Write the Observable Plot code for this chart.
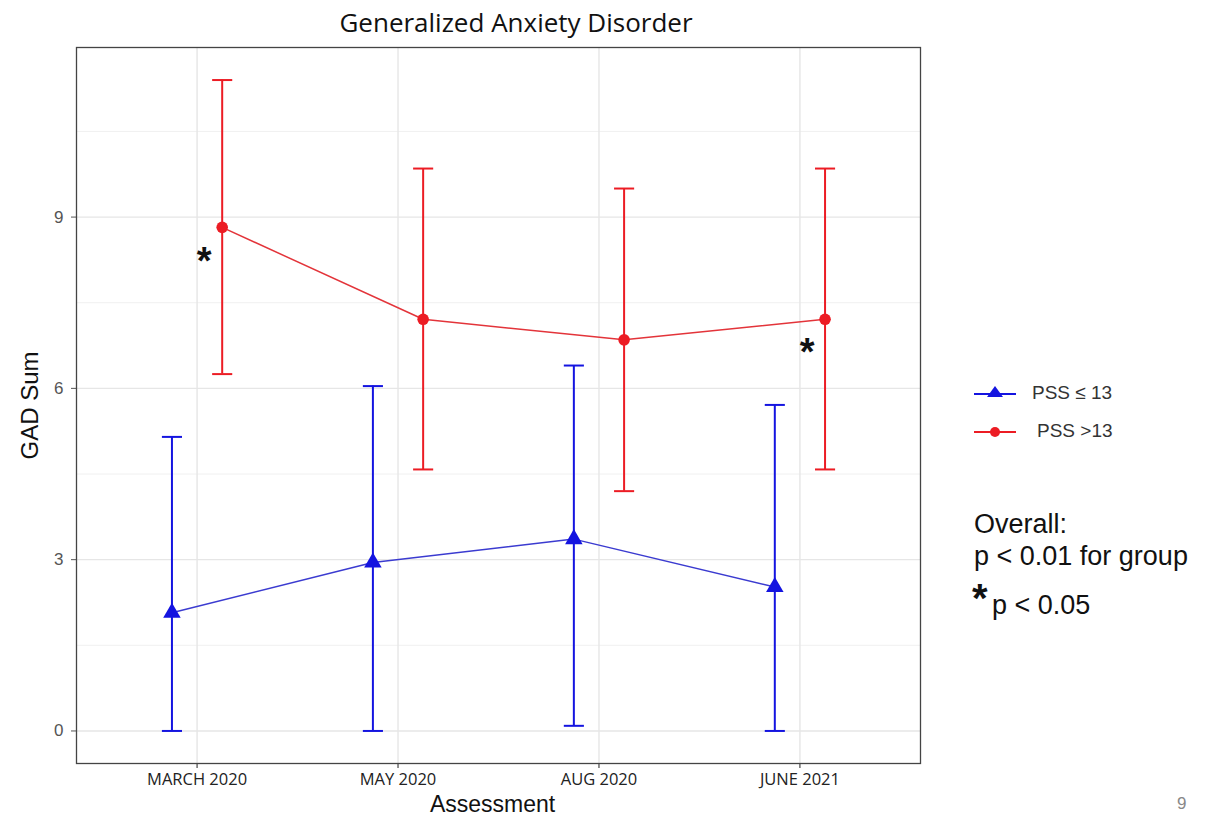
<!DOCTYPE html>
<html>
<head>
<meta charset="utf-8">
<script src="https://cdn.jsdelivr.net/npm/d3@7"></script>
<script src="https://cdn.jsdelivr.net/npm/@observablehq/plot@0.6"></script>
<style>
  body { margin: 0; background: #fff; font-family: "Liberation Sans", Arial, sans-serif; }
  #wrap { position: relative; width: 1207px; height: 821px; overflow: hidden; }
  #title { height: 40px; line-height: 44px; width: 1032px; text-align: center; font-family: "Open Sans", sans-serif; font-size: 26px; color: #111; }
  .abs { position: absolute; white-space: nowrap; }
  .leg { font-size: 19px; color: #333; }
  .note { font-size: 27px; color: #111; }
</style>
</head>
<body>
<div id="wrap">
  <div id="title">Generalized Anxiety Disorder</div>
  <div id="chart"></div>
</div>
<script>
// ---- data ----
const assessments = ["MARCH 2020", "MAY 2020", "AUG 2020", "JUNE 2021"];
const groups = ["PSS ≤ 13", "PSS >13"];
const groupColors = ["#1414e0", "#ec1c24"];
const lowMean  = [2.07, 2.95, 3.36, 2.52];
const lowLower = [0.00, 0.00, 0.09, 0.00];
const lowUpper = [5.15, 6.04, 6.40, 5.71];
const highMean  = [8.82, 7.21, 6.85, 7.21];
const highLower = [6.25, 4.58, 4.20, 4.58];
const highUpper = [11.40, 9.85, 9.50, 9.85];
const significant = [true, false, false, true];
const yTicks = [0, 3, 6, 9];
const yMinor = [1.5, 4.5, 7.5, 10.5];

// ---- table ----
const dodge = 0.125, capHalf = 0.05;
const rows = [];
assessments.forEach((a, i) => {
  rows.push({group: groups[0], gi: 0, idx: i + 1, label: a, mean: lowMean[i], lo: lowLower[i], hi: lowUpper[i], sig: false});
  rows.push({group: groups[1], gi: 1, idx: i + 1, label: a, mean: highMean[i], lo: highLower[i], hi: highUpper[i], sig: significant[i]});
});
const xpos = d => d.idx + (d.gi === 0 ? -dodge : dodge);
const low = rows.filter(d => d.gi === 0);
const high = rows.filter(d => d.gi === 1);
const n = assessments.length;

const chart = Plot.plot({
  width: 1207,
  height: 781,
  marginLeft: 76,
  marginRight: 287,
  marginTop: 7,
  marginBottom: 58,
  style: {fontFamily: "Liberation Sans, Arial, sans-serif", background: "#fff"},
  x: {domain: [0.4, n + 0.6], axis: null},
  y: {domain: [-0.57, 11.97], axis: null},
  color: {domain: groups, range: groupColors},
  marks: [
    Plot.gridY(yMinor, {stroke: "#f0f0f0", strokeOpacity: 1, strokeWidth: 1}),
    Plot.gridY(yTicks, {stroke: "#e6e6e6", strokeOpacity: 1, strokeWidth: 1.4}),
    Plot.gridX(d3.range(1, n + 1), {stroke: "#e6e6e6", strokeOpacity: 1, strokeWidth: 1.4}),
    Plot.axisY(yTicks, {tickSize: 5, tickPadding: 8, fontSize: 17, color: "#555", tickFormat: d3.format("d"), label: null}),
    Plot.axisX(d3.range(1, n + 1), {tickSize: 5, tickPadding: 5, fontSize: 16.5, fontFamily: "Open Sans, sans-serif", color: "#222", tickFormat: i => assessments[i - 1], label: null}),
    Plot.frame({stroke: "#444", strokeWidth: 1.3}),
    // error bars
    Plot.ruleX(rows, {x: xpos, y1: "lo", y2: "hi", stroke: "group", strokeWidth: 2}),
    Plot.link(rows, {x1: d => xpos(d) - capHalf, x2: d => xpos(d) + capHalf, y1: "hi", y2: "hi", stroke: "group", strokeWidth: 2}),
    Plot.link(rows, {x1: d => xpos(d) - capHalf, x2: d => xpos(d) + capHalf, y1: "lo", y2: "lo", stroke: "group", strokeWidth: 2}),
    // lines
    Plot.line(low, {x: xpos, y: "mean", stroke: "#3b3bd0", strokeWidth: 1.5}),
    Plot.line(high, {x: xpos, y: "mean", stroke: "#e3343a", strokeWidth: 1.5}),
    // points
    Plot.dot(low, {x: xpos, y: "mean", symbol: "triangle", r: 6.5, fill: "group", stroke: "none"}),
    Plot.dot(high, {x: xpos, y: "mean", symbol: "circle", r: 5.8, fill: "group", stroke: "none"}),
    // significance stars
    Plot.text(high.filter(d => d.sig), {x: xpos, y: "mean", text: () => "*", dx: -18, dy: 34, fontSize: 38, fontWeight: "bold", fill: "#111"}),
    // axis titles
    Plot.text(["Assessment"], {frameAnchor: "bottom", textAnchor: "middle", dx: -6, dy: 48, fontSize: 23, fill: "#111"}),
    Plot.text(["GAD Sum"], {frameAnchor: "left", textAnchor: "middle", rotate: -90, dx: -46, fontSize: 24, fontFamily: "Liberation Sans Narrow, Arial Narrow, sans-serif", fill: "#111"})
  ]
});
document.getElementById("chart").appendChild(chart);

// ---- legend & notes (HTML overlays) ----
const wrap = document.getElementById("wrap");
function add(html, css, cls) {
  const el = document.createElement("div");
  el.className = "abs " + (cls || "");
  el.innerHTML = html;
  Object.assign(el.style, css);
  wrap.appendChild(el);
  return el;
}
const triSw = `<svg width="46" height="20"><line x1="2" y1="10" x2="44" y2="10" stroke="${groupColors[0]}" stroke-width="2"/><polygon points="23,2 31,13 15,13" fill="${groupColors[0]}"/></svg>`;
const dotSw = `<svg width="46" height="20"><line x1="2" y1="10" x2="44" y2="10" stroke="${groupColors[1]}" stroke-width="2"/><circle cx="23" cy="10" r="5" fill="${groupColors[1]}"/></svg>`;
add(triSw, {left: "972px", top: "384px"});
add(dotSw, {left: "972px", top: "422px"});
add(groups[0], {left: "1032px", top: "382px"}, "leg");
add(groups[1], {left: "1037px", top: "420px"}, "leg");
add("Overall:", {left: "974px", top: "509px"}, "note");
add("p &lt; 0.01 for group", {left: "974px", top: "541px"}, "note");
add("*", {left: "972px", top: "576px", fontSize: "40px", fontWeight: "bold"}, "note");
add("p &lt; 0.05", {left: "992px", top: "590px"}, "note");
add("9", {left: "1177px", top: "794px", fontSize: "17px", color: "#888"});
</script>
</body>
</html>
